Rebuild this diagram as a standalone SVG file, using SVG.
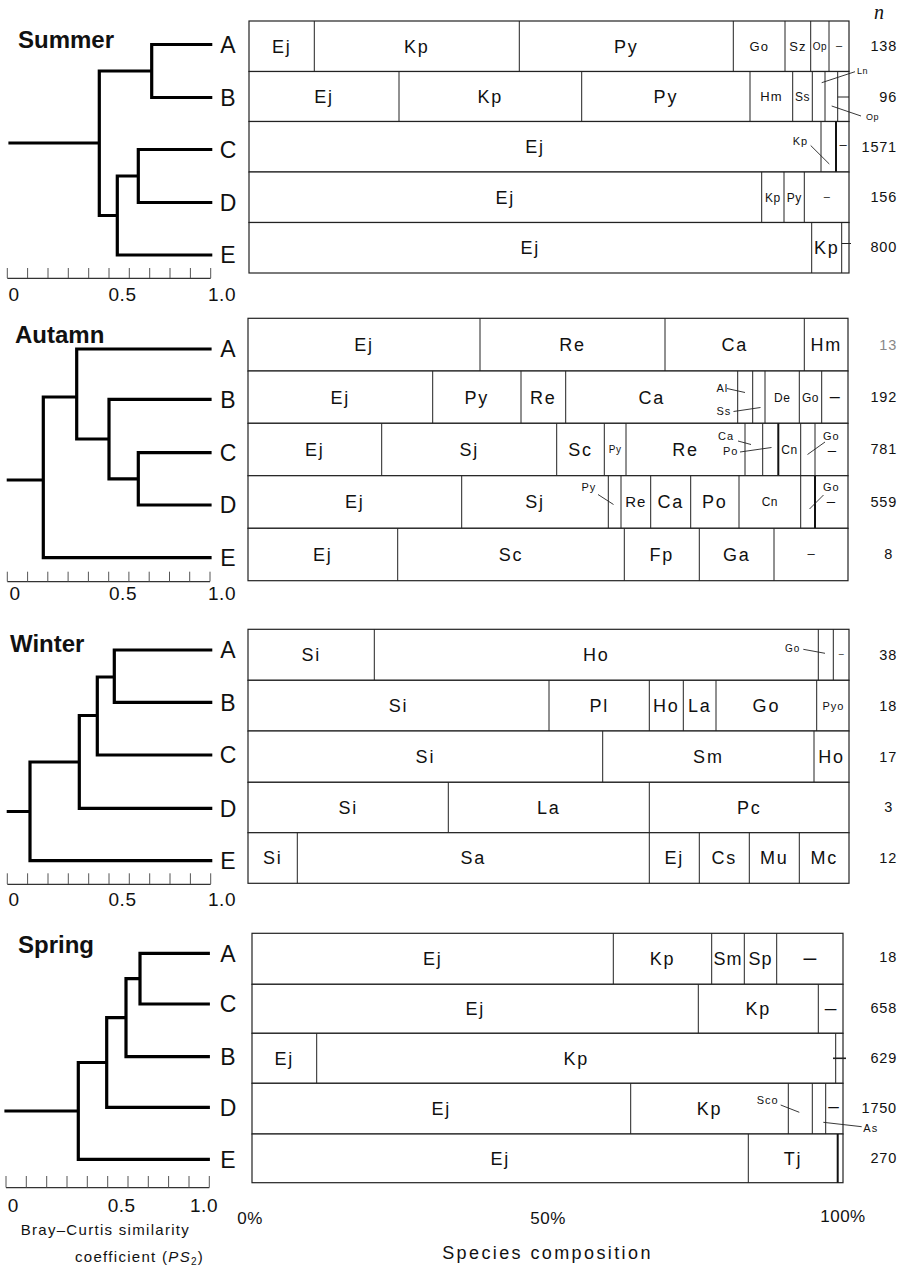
<svg xmlns="http://www.w3.org/2000/svg" width="905" height="1266" viewBox="0 0 905 1266">
<style>
text{font-family:"Liberation Sans",Arial,Helvetica,sans-serif;fill:#111}
.l{font-size:18px;letter-spacing:1.8px;text-anchor:middle}
.m{font-size:13px;letter-spacing:1px;text-anchor:middle}
.m12{font-size:12px;letter-spacing:0.5px;text-anchor:middle}
.m15{font-size:15px;letter-spacing:1px;text-anchor:middle}
.xs{font-size:10px;letter-spacing:0.5px;text-anchor:middle}
.ll{font-size:11px;letter-spacing:1px}
.tiny{font-size:9px;letter-spacing:0.5px}
.ttl{font-size:24px;font-weight:bold}
.leaf{font-size:23px;text-anchor:middle}
.ax{font-size:19px;text-anchor:middle;letter-spacing:0.5px}
.n{font-size:14.5px;letter-spacing:0.8px;text-anchor:end}
.d{text-anchor:middle}
.fr{fill:#fff;stroke:#222;stroke-width:1.2}
.dv{stroke:#222;stroke-width:1;fill:none}
.dv2{stroke:#111;stroke-width:2;fill:none}
.ld{stroke:#222;stroke-width:0.9;fill:none}
.den{stroke:#000;stroke-width:3.2;fill:none;stroke-linecap:square}
.axl{stroke:#333;stroke-width:1.3;fill:none}
.tk{stroke:#555;stroke-width:1;fill:none}
</style>
<rect width="905" height="1266" fill="#fff"/>

<g id="connectors">
  <path class="den" d="M10 143H99.3M99.3 71V215.5M99.3 71H151.7M151.7 44.5V97.5M151.7 44.5H210.7M151.7 97.5H210.7M99.3 215.5H117.3M117.3 176V255M117.3 176H138.3M138.3 149.5V202.5M138.3 149.5H210.7M138.3 202.5H210.7M117.3 255H210.7"/>
  <path class="den" d="M8.3 480H43.3M43.3 397V557.7M43.3 397H76.7M76.7 349V439M76.7 349H210M76.7 439H109M109 399.3V478.8M109 399.3H210M109 478.8H138.3M138.3 452.7V505M138.3 452.7H210M138.3 505H210M43.3 557.7H210"/>
  <path class="den" d="M8.3 811.5H30M30 762V860.7M30 860.7H210.7M30 762H79.3M79.3 715.5V808.3M79.3 808.3H210.7M79.3 715.5H97.3M97.3 677V755M97.3 755H210.7M97.3 677H114.3M114.3 650V702.3M114.3 650H210.7M114.3 702.3H210.7"/>
  <path class="den" d="M6 1111H78.3M78.3 1062.5V1159.3M78.3 1159.3H208.3M78.3 1062.5H106.7M106.7 1017.7V1107.3M106.7 1107.3H208.3M106.7 1017.7H126M126 978.7V1056.7M126 1056.7H208.3M126 978.7H140M140 953.3V1004M140 953.3H208.3M140 1004H208.3"/>
</g>

<g id="axes">
  <path class="axl" d="M7.3 278.3H210.7M7.3 581.7H210M7.3 884.3H210.7M6 1187.7H209.3"/>
  <path class="tk" d="M7.3 268V278M27.6 268V278M48 268V278M68.3 268V278M88.7 268V278M109 268V278M129.3 268V278M149.7 268V278M170 268V278M190.4 268V278M210.7 268V278"/>
  <path class="tk" d="M7.3 571.7V581.5M27.6 571.7V581.5M47.8 571.7V581.5M68.1 571.7V581.5M88.4 571.7V581.5M108.7 571.7V581.5M128.9 571.7V581.5M149.2 571.7V581.5M169.5 571.7V581.5M189.7 571.7V581.5M210 571.7V581.5"/>
  <path class="tk" d="M7.3 873.3V884M27.6 873.3V884M48 873.3V884M68.3 873.3V884M88.7 873.3V884M109 873.3V884M129.3 873.3V884M149.7 873.3V884M170 873.3V884M190.4 873.3V884M210.7 873.3V884"/>
  <path class="tk" d="M6 1176V1187.5M26.3 1176V1187.5M46.7 1176V1187.5M67 1176V1187.5M87.3 1176V1187.5M107.7 1176V1187.5M128 1176V1187.5M148.3 1176V1187.5M168.6 1176V1187.5M189 1176V1187.5M209.3 1176V1187.5"/>
  <text class="ax" x="14" y="301">0</text><text class="ax" x="122.5" y="301">0.5</text><text class="ax" x="222" y="301">1.0</text>
  <text class="ax" x="15" y="600">0</text><text class="ax" x="123" y="600">0.5</text><text class="ax" x="222" y="600">1.0</text>
  <text class="ax" x="14" y="906">0</text><text class="ax" x="122.5" y="906">0.5</text><text class="ax" x="222" y="906">1.0</text>
  <text class="ax" x="13.3" y="1211.7">0</text><text class="ax" x="121.7" y="1211.7">0.5</text><text class="ax" x="204" y="1211.7">1.0</text>
  <text x="20.7" y="1235" style="font-size:15px;letter-spacing:1.3px">Bray–Curtis similarity</text>
  <text x="75" y="1262" style="font-size:15px;letter-spacing:1.3px">coefficient (<tspan font-style="italic">PS</tspan><tspan font-size="10" dy="3">2</tspan><tspan dy="-3">)</tspan></text>
  <text class="ax" x="250" y="1224" style="font-size:17px">0%</text>
  <text class="ax" x="548" y="1224" style="font-size:17px">50%</text>
  <text class="ax" x="843" y="1222" style="font-size:17px">100%</text>
  <text x="547.5" y="1259" style="font-size:18px;letter-spacing:2.4px;text-anchor:middle">Species composition</text>
  <text x="879" y="19" style="font-family:'Liberation Serif',serif;font-style:italic;font-size:20px;text-anchor:middle">n</text>
</g>

<!-- SUMMER -->
<g id="summer">
  <text class="ttl" x="18" y="48">Summer</text>
  <g id="summer-A">
    <rect class="fr" x="249" y="21" width="600" height="50.5"/>
    <path class="dv" d="M314.3 21V71.5M519.3 21V71.5M733.3 21V71.5M785 21V71.5M810.7 21V71.5M829 21V71.5"/>
    <text class="l" x="281.7" y="52.7">Ej</text><text class="l" x="416.8" y="52.7">Kp</text><text class="l" x="626.3" y="52.7">Py</text>
    <text class="m" x="759.2" y="51">Go</text><text class="m" x="797.9" y="51">Sz</text><text class="xs" x="820" y="49.8">Op</text>
    <text class="d" x="839" y="49.3" style="font-size:11px">–</text>
    <text class="leaf" x="228" y="52.8">A</text><text class="n" x="897" y="51">138</text>
  </g>
  <g id="summer-B">
    <rect class="fr" x="249" y="71.5" width="600" height="50"/>
    <path class="dv" d="M399 71.5V121.5M581.7 71.5V121.5M750 71.5V121.5M792.7 71.5V121.5M812.3 71.5V121.5M825 71.5V121.5M837.7 71.5V121.5M837.7 97H849"/>
    <text class="l" x="324" y="102.9">Ej</text><text class="l" x="490.3" y="102.9">Kp</text><text class="l" x="665.9" y="102.9">Py</text>
    <text class="m" x="771.4" y="101.2">Hm</text><text class="m12" x="802.5" y="100.8">Ss</text>
    <text class="tiny" x="857" y="74">Ln</text><text class="tiny" x="866" y="120">Op</text>
    <path class="ld" d="M821.7 82.7L855 71.7M831.7 106L861 116"/>
    <text class="leaf" x="228" y="105.8">B</text><text class="n" x="897" y="101.5">96</text>
  </g>
  <g id="summer-C">
    <rect class="fr" x="249" y="121.5" width="600" height="50.5"/>
    <path class="dv" d="M821 121.5V172"/><path class="dv2" d="M836 121.5V172"/>
    <text class="l" x="535" y="153.2">Ej</text>
    <text class="ll" x="792.7" y="145">Kp</text><path class="ld" d="M810.7 145.5L829.3 164"/>
    <text class="d" x="843" y="149.3" style="font-size:13px">–</text>
    <text class="leaf" x="228" y="157.8">C</text><text class="n" x="897" y="151.5">1571</text>
  </g>
  <g id="summer-D">
    <rect class="fr" x="249" y="172" width="600" height="50.5"/>
    <path class="dv" d="M761.7 172V222.5M784 172V222.5M804.3 172V222.5"/>
    <text class="l" x="505.3" y="203.7">Ej</text><text class="m12" x="772.9" y="201.5">Kp</text><text class="m12" x="794.2" y="201.5">Py</text>
    <text class="d" x="826.7" y="200" style="font-size:11px">–</text>
    <text class="leaf" x="228" y="210.8">D</text><text class="n" x="897" y="201.5">156</text>
  </g>
  <g id="summer-E">
    <rect class="fr" x="249" y="222.5" width="600" height="50.5"/>
    <path class="dv" d="M811.7 222.5V273M841.7 222.5V273M841.7 243.5H851"/>
    <text class="l" x="530.3" y="254.2">Ej</text><text class="l" x="826.7" y="254.2">Kp</text>
    <text class="leaf" x="228" y="263.3">E</text><text class="n" x="897" y="252">800</text>
  </g>
</g>

<!-- AUTUMN -->
<g id="autumn">
  <text class="ttl" x="15" y="343">Autamn</text>
  <g id="autumn-A">
    <rect class="fr" x="248" y="318.3" width="600" height="52.7"/>
    <path class="dv" d="M480 318.3V371M665 318.3V371M804.3 318.3V371"/>
    <text class="l" x="364" y="351.1">Ej</text><text class="l" x="572.5" y="351.1">Re</text><text class="l" x="734.7" y="351.1">Ca</text><text class="l" x="826.2" y="351.1">Hm</text>
    <text class="leaf" x="228" y="357.3">A</text><text class="n" x="897" y="349.5" style="fill:#888">13</text>
  </g>
  <g id="autumn-B">
    <rect class="fr" x="248" y="371" width="600" height="52.3"/>
    <path class="dv" d="M432.7 371V423.3M521 371V423.3M565.7 371V423.3M737.7 371V423.3M752.7 371V423.3M765 371V423.3M799.3 371V423.3M821.7 371V423.3"/>
    <text class="l" x="340.3" y="403.6">Ej</text><text class="l" x="476.8" y="403.6">Py</text><text class="l" x="543.3" y="403.6">Re</text><text class="l" x="651.7" y="403.6">Ca</text>
    <text class="m12" x="782.2" y="401.5">De</text><text class="m12" x="810.5" y="401.5">Go</text>
    <text class="d" x="834.8" y="402.2" style="font-size:18px">–</text>
    <text class="ll" x="716.5" y="392">Al</text><text class="ll" x="716.5" y="415">Ss</text>
    <path class="ld" d="M727 388.5L745 392.5M733.5 411.5L760.5 407.5"/>
    <text class="leaf" x="228" y="407.6">B</text><text class="n" x="897" y="402">192</text>
  </g>
  <g id="autumn-C">
    <rect class="fr" x="248" y="423.3" width="600" height="52.4"/>
    <path class="dv" d="M381.7 423.3V475.7M556.7 423.3V475.7M604.3 423.3V475.7M626 423.3V475.7M745 423.3V475.7M762.7 423.3V475.7M800.7 423.3V475.7M815 423.3V475.7"/>
    <path class="dv2" d="M778.3 423.3V475.7"/>
    <text class="l" x="314.8" y="455.9">Ej</text><text class="l" x="469.2" y="455.9">Sj</text><text class="l" x="580.5" y="455.9">Sc</text>
    <text class="xs" x="615.1" y="453">Py</text><text class="l" x="685.5" y="455.9">Re</text><text class="m12" x="789.5" y="453.8">Cn</text>
    <text class="ll" x="718" y="440">Ca</text><text class="ll" x="723" y="455">Po</text><text class="ll" x="823" y="440">Go</text>
    <path class="ld" d="M738 441L751 444.5M740 452L771.5 447.5M825 442L807.5 454.5"/>
    <text class="d" x="832" y="455" style="font-size:15px">–</text>
    <text class="leaf" x="228" y="461">C</text><text class="n" x="897" y="454">781</text>
  </g>
  <g id="autumn-D">
    <rect class="fr" x="248" y="475.7" width="600" height="52.6"/>
    <path class="dv" d="M461.7 475.7V528.3M608.3 475.7V528.3M621 475.7V528.3M650.7 475.7V528.3M690.7 475.7V528.3M739 475.7V528.3M800.7 475.7V528.3"/>
    <path class="dv2" d="M815 475.7V528.3"/>
    <text class="l" x="354.8" y="508.4">Ej</text><text class="l" x="535" y="508.4">Sj</text><text class="m15" x="635.8" y="507.3">Re</text>
    <text class="l" x="670.7" y="508.4">Ca</text><text class="l" x="714.8" y="508.4">Po</text><text class="m12" x="769.8" y="506.3">Cn</text>
    <text class="ll" x="581.5" y="491">Py</text><text class="ll" x="823" y="491">Go</text>
    <path class="ld" d="M598 494.5L613.5 504.5M823.5 495L809.5 509"/>
    <text class="d" x="831" y="506" style="font-size:15px">–</text>
    <text class="leaf" x="228" y="513.3">D</text><text class="n" x="897" y="506.5">559</text>
  </g>
  <g id="autumn-E">
    <rect class="fr" x="248" y="528.3" width="600" height="52.4"/>
    <path class="dv" d="M397.7 528.3V580.7M624.3 528.3V580.7M699.3 528.3V580.7M774 528.3V580.7"/>
    <text class="l" x="322.8" y="560.9">Ej</text><text class="l" x="511" y="560.9">Sc</text><text class="l" x="661.8" y="560.9">Fp</text><text class="l" x="736.7" y="560.9">Ga</text>
    <text class="d" x="811" y="558.1" style="font-size:13px">–</text>
    <text class="leaf" x="228" y="566">E</text><text class="n" x="893" y="559">8</text>
  </g>
</g>

<!-- WINTER -->
<g id="winter">
  <text class="ttl" x="10" y="652">Winter</text>
  <g id="winter-A">
    <rect class="fr" x="248" y="629.3" width="601" height="51"/>
    <path class="dv" d="M374.3 629.3V680.3M818.3 629.3V680.3M833.3 629.3V680.3"/>
    <text class="l" x="311.2" y="661.2">Si</text><text class="l" x="596.3" y="661.2">Ho</text>
    <text class="ll" x="785" y="652" style="font-size:10px">Go</text><path class="ld" d="M803.3 649.3L825 653.3"/>
    <text class="d" x="841.2" y="657.3" style="font-size:9px">–</text>
    <text class="leaf" x="228" y="658.3">A</text><text class="n" x="897" y="659.5">38</text>
  </g>
  <g id="winter-B">
    <rect class="fr" x="248" y="680.3" width="601" height="50.7"/>
    <path class="dv" d="M549 680.3V731M649.3 680.3V731M683.3 680.3V731M716 680.3V731M816.7 680.3V731"/>
    <text class="l" x="398.5" y="712.1">Si</text><text class="l" x="599.2" y="712.1">Pl</text><text class="l" x="666.3" y="712.1">Ho</text>
    <text class="l" x="699.7" y="712.1">La</text><text class="l" x="766.4" y="712.1">Go</text>
    <text class="ll" x="833.5" y="709.7" style="text-anchor:middle">Pyo</text>
    <text class="leaf" x="228" y="710.6">B</text><text class="n" x="897" y="710.5">18</text>
  </g>
  <g id="winter-C">
    <rect class="fr" x="248" y="731" width="601" height="51.3"/>
    <path class="dv" d="M602.7 731V782.3M814 731V782.3"/>
    <text class="l" x="425.4" y="763.1">Si</text><text class="l" x="708.4" y="763.1">Sm</text><text class="l" x="831.5" y="763.1">Ho</text>
    <text class="leaf" x="228" y="763.3">C</text><text class="n" x="897" y="761.5">17</text>
  </g>
  <g id="winter-D">
    <rect class="fr" x="248" y="782.3" width="601" height="50.4"/>
    <path class="dv" d="M448.3 782.3V832.7M649.3 782.3V832.7"/>
    <text class="l" x="348.2" y="813.9">Si</text><text class="l" x="548.8" y="813.9">La</text><text class="l" x="749.2" y="813.9">Pc</text>
    <text class="leaf" x="228" y="816.6">D</text><text class="n" x="893" y="812">3</text>
  </g>
  <g id="winter-E">
    <rect class="fr" x="248" y="832.7" width="601" height="50.6"/>
    <path class="dv" d="M297.3 832.7V883.3M649.3 832.7V883.3M699.3 832.7V883.3M749.3 832.7V883.3M799.3 832.7V883.3"/>
    <text class="l" x="272.7" y="864.4">Si</text><text class="l" x="473.3" y="864.4">Sa</text><text class="l" x="674.3" y="864.4">Ej</text>
    <text class="l" x="724.3" y="864.4">Cs</text><text class="l" x="774.3" y="864.4">Mu</text><text class="l" x="824.2" y="864.4">Mc</text>
    <text class="leaf" x="228" y="869">E</text><text class="n" x="897" y="862.5">12</text>
  </g>
</g>

<!-- SPRING -->
<g id="spring">
  <text class="ttl" x="18" y="953">Spring</text>
  <g id="spring-A">
    <rect class="fr" x="252" y="933.3" width="591" height="51"/>
    <path class="dv" d="M613.3 933.3V984.3M711.7 933.3V984.3M744.3 933.3V984.3M776.7 933.3V984.3"/>
    <text class="l" x="432.7" y="965.2">Ej</text><text class="l" x="662.5" y="965.2">Kp</text><text class="l" x="728" y="965.2" style="letter-spacing:1px">Sm</text><text class="l" x="760.5" y="965.2" style="letter-spacing:1px">Sp</text>
    <text class="d" x="809.9" y="965.2" style="font-size:23px">–</text>
    <text class="leaf" x="228" y="961.6">A</text><text class="n" x="897" y="962">18</text>
  </g>
  <g id="spring-C">
    <rect class="fr" x="252" y="984.3" width="591" height="49"/>
    <path class="dv" d="M698.3 984.3V1033.3M818.3 984.3V1033.3"/>
    <text class="l" x="475.2" y="1015.2">Ej</text><text class="l" x="758.3" y="1015.2">Kp</text>
    <text class="d" x="830.7" y="1014.7" style="font-size:21px">–</text>
    <text class="leaf" x="228" y="1012.3">C</text><text class="n" x="897" y="1012.5">658</text>
  </g>
  <g id="spring-B">
    <rect class="fr" x="252" y="1033.3" width="591" height="50"/>
    <path class="dv" d="M316.7 1033.3V1083.3M835.7 1033.3V1083.3"/>
    <path class="dv" style="stroke-width:1.6" d="M833 1058.3H846"/>
    <text class="l" x="284.3" y="1064.7">Ej</text><text class="l" x="576.2" y="1064.7">Kp</text>
    <text class="leaf" x="228" y="1065">B</text><text class="n" x="897" y="1063">629</text>
  </g>
  <g id="spring-D">
    <rect class="fr" x="252" y="1083.3" width="591" height="50.7"/>
    <path class="dv" d="M630.7 1083.3V1134M788.3 1083.3V1134M812.3 1083.3V1134M825.7 1083.3V1134"/>
    <text class="l" x="441.3" y="1115.1">Ej</text><text class="l" x="709.5" y="1115.1">Kp</text>
    <text class="ll" x="756.7" y="1104">Sco</text><text class="ll" x="863.3" y="1131.5">As</text>
    <path class="ld" d="M780.7 1105L799.3 1112.3M823.3 1122.3L861.7 1126.7"/>
    <text class="d" x="833.5" y="1112" style="font-size:19px">–</text>
    <text class="leaf" x="228" y="1115.6">D</text><text class="n" x="897" y="1113">1750</text>
  </g>
  <g id="spring-E">
    <rect class="fr" x="252" y="1134" width="591" height="48.7"/>
    <path class="dv" d="M748.3 1134V1182.7"/><path class="dv2" d="M837.7 1134V1182.7"/>
    <text class="l" x="500.2" y="1164.8">Ej</text><text class="l" x="793" y="1164.8">Tj</text>
    <text class="leaf" x="228" y="1167.6">E</text><text class="n" x="897" y="1163">270</text>
  </g>
</g>
</svg>
